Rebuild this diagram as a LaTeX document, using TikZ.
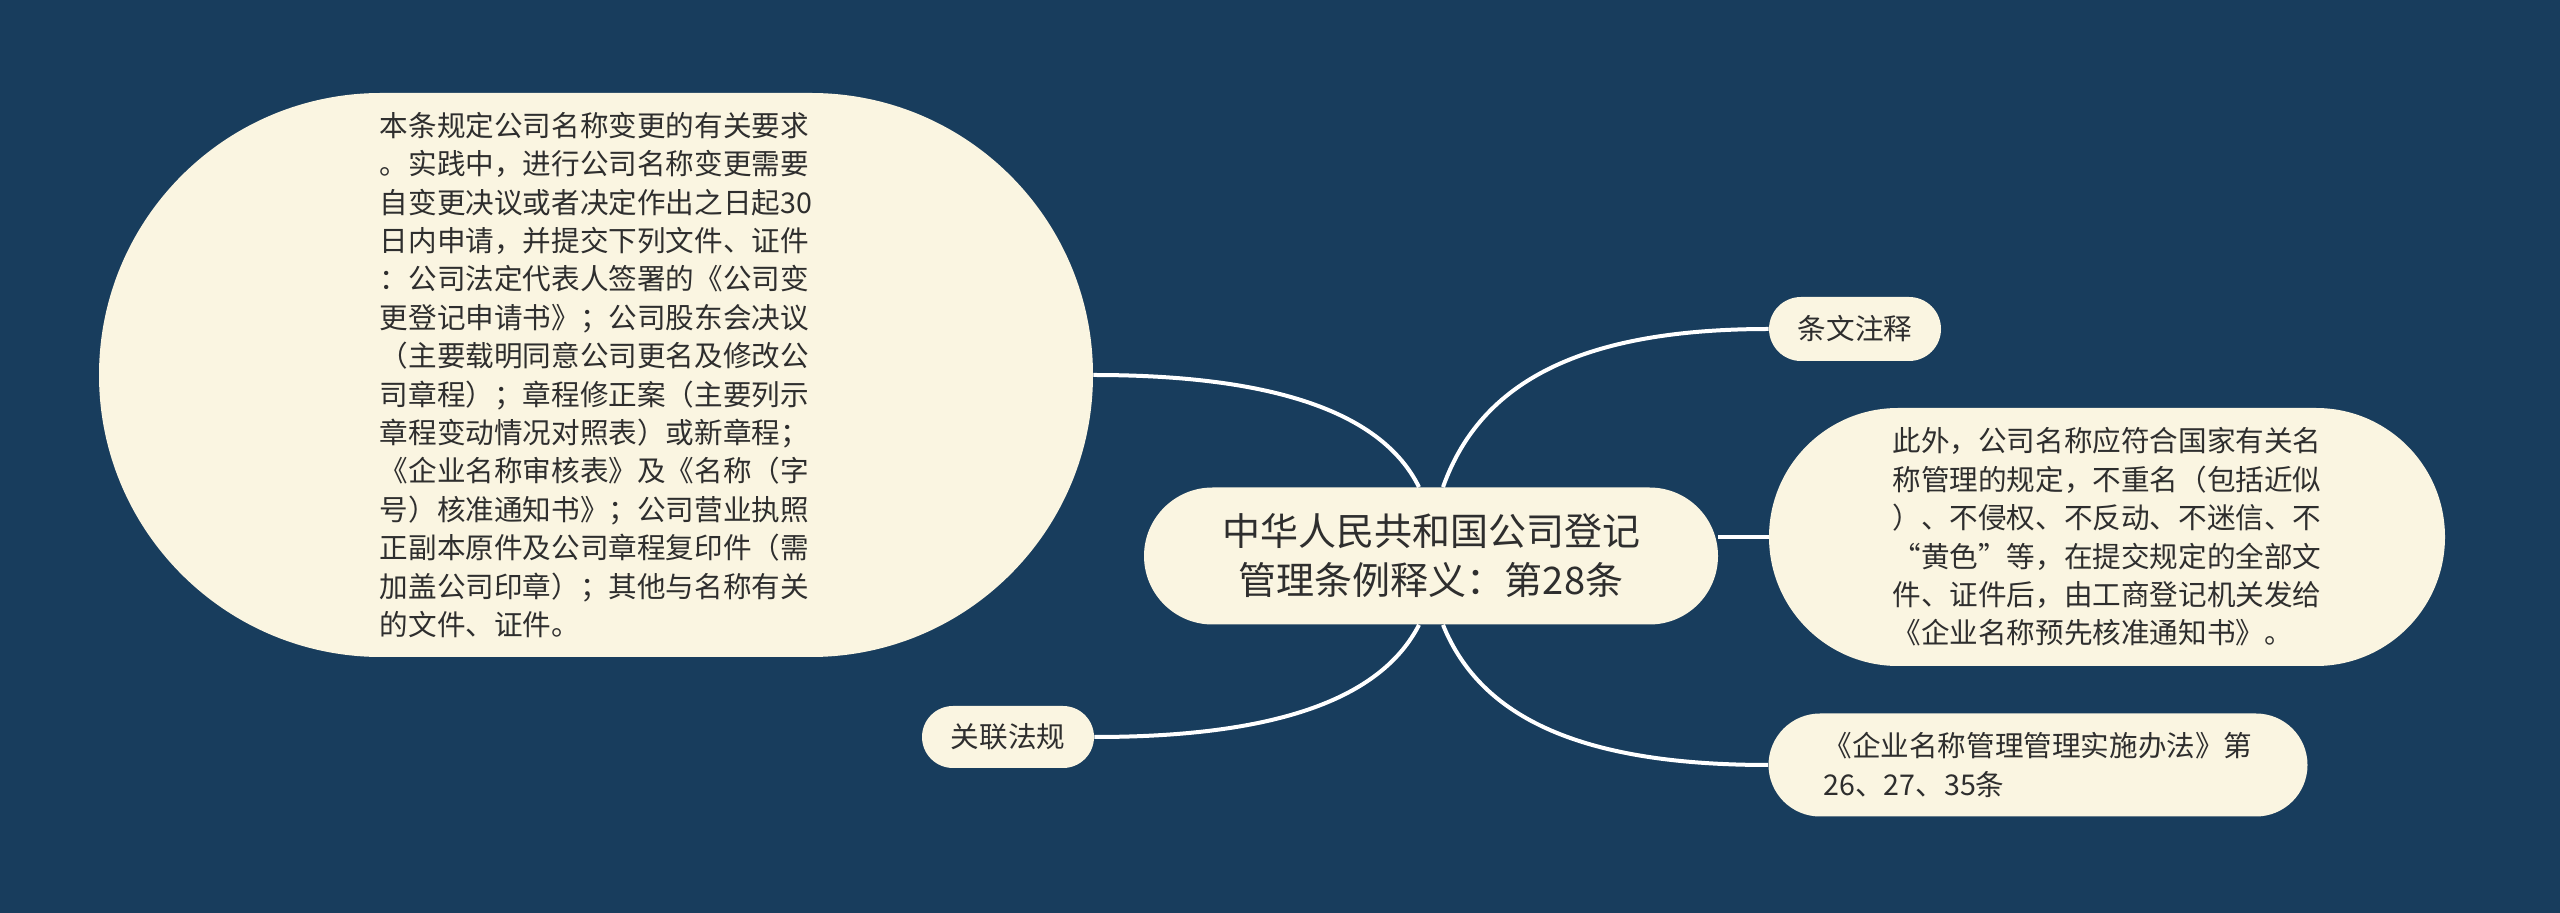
\documentclass[tikz,border=0pt]{standalone}
\usepackage{fontspec}
\setmainfont{Noto Sans CJK SC}
\usepackage{xcolor}
\usepackage{tikz}
\usetikzlibrary{shapes.misc}
\definecolor{bgblue}{HTML}{183D5D}
\definecolor{cream}{HTML}{FAF5E1}
\definecolor{inkgray}{HTML}{2E2E2E}
\tikzset{
  topic/.style={rounded rectangle, fill=cream, text=inkgray, align=center,
    font=\fontsize{19pt}{24.5pt}\selectfont, inner sep=2pt},
  leaf/.style={rounded rectangle, fill=cream, text=inkgray, align=left,
    font=\fontsize{14.3pt}{19.2pt}\selectfont, inner sep=2pt},
  link/.style={draw=white, line width=2pt}
}
\begin{document}
\begin{tikzpicture}[x=0.5pt, y=-0.5pt]

  \fill[bgblue] (0,0) rectangle (2560,913);

  \node (root) [topic, minimum width=291pt, minimum height=68.5pt] at (1431,556)
    {中华人民共和国公司登记\\管理条例释义：第28条};

  \node (detail) [leaf, minimum width=501pt, minimum height=282pt] at (596,375)
    {本条规定公司名称变更的有关要求\\
     。实践中，进行公司名称变更需要\\
     自变更决议或者决定作出之日起30\\
     日内申请，并提交下列文件、证件\\
     ：公司法定代表人签署的《公司变\\
     更登记申请书》；公司股东会决议\\
     （主要载明同意公司更名及修改公\\
     司章程）；章程修正案（主要列示\\
     章程变动情况对照表）或新章程；\\
     《企业名称审核表》及《名称（字\\
     号）核准通知书》；公司营业执照\\
     正副本原件及公司章程复印件（需\\
     加盖公司印章）；其他与名称有关\\
     的文件、证件。};
  \node (anno) [leaf, minimum width=90pt, minimum height=32pt] at (1855,329) {条文注释};
  \node (extra) [leaf, minimum width=342pt, minimum height=129pt] at (2107,537)
    {此外，公司名称应符合国家有关名\\
     称管理的规定，不重名（包括近似\\
     ）、不侵权、不反动、不迷信、不\\
     “黄色”等，在提交规定的全部文\\
     件、证件后，由工商登记机关发给\\
     《企业名称预先核准通知书》。};
  \node (law) [leaf, minimum width=273.5pt, minimum height=51.5pt] at (2038,765)
    {《企业名称管理管理实施办法》第\\26、27、35条};
  \node (rel) [leaf, minimum width=90pt, minimum height=31pt] at (1008,737) {关联法规};

  % 连线
  \draw[link] ([xshift=6pt]root.north) .. controls +(38,-107) and +(-185,0) .. (anno.west);
  \draw[link] (extra.west) -- (extra.west -| root.east);
  \draw[link] ([xshift=6pt]root.south) .. controls +(38,94) and +(-185,0) .. (law.west);
  \draw[link] ([xshift=-6pt]root.north) .. controls +(-37,-75) and +(180,0) .. (detail.east);
  \draw[link] ([xshift=-6pt]root.south) .. controls +(-38,74) and +(182,0) .. (rel.east);

\end{tikzpicture}
\end{document}
